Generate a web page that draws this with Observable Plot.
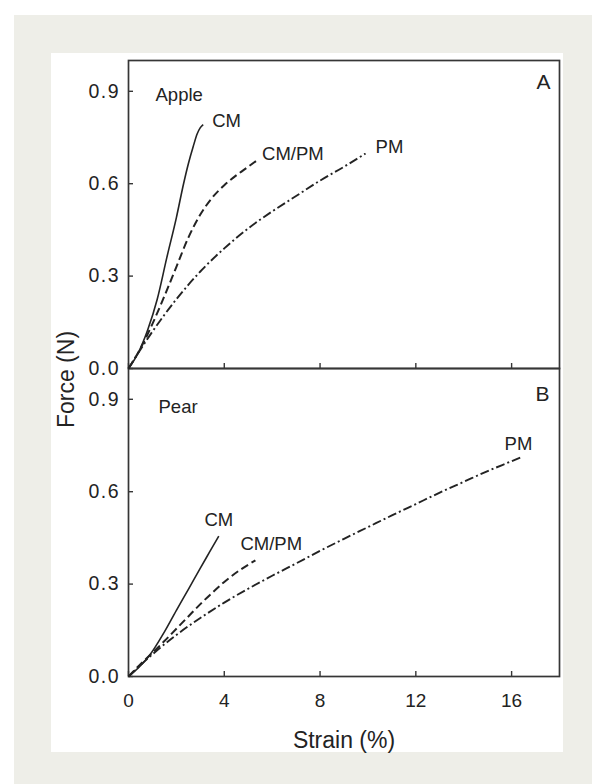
<!DOCTYPE html>
<html>
<head>
<meta charset="utf-8">
<script src="https://cdn.jsdelivr.net/npm/d3@7"></script>
<script src="https://cdn.jsdelivr.net/npm/@observablehq/plot@0.6"></script>
<style>
  html, body { margin: 0; padding: 0; background: #ffffff; }
  #page { position: relative; width: 592px; height: 784px; overflow: hidden; }
  #backdrop { position: absolute; left: 14px; top: 15px; right: 0; bottom: 0; background: #eeeee8; }
  #sheet { position: absolute; left: 51px; top: 53px; width: 512px; height: 699px; background: #ffffff; }
  #chart { position: absolute; left: 0; top: 0; }
  #chart g[aria-label="y-axis tick label"] text { letter-spacing: 1.5px; }
</style>
</head>
<body>
<div id="page">
  <div id="backdrop"></div>
  <div id="sheet"></div>
  <div id="chart"></div>
</div>
<script>
// Tick values and panel categories
const xTicks = [0, 4, 8, 12, 16];
const yTicks = [0, 0.3, 0.6, 0.9];
const fruits = ["Apple", "Pear"];
const panelLetters = ["A", "B"];
const seriesNames = ["CM", "CM/PM", "PM"];

// Force–strain curves, [strain (%), force (N)]
const appleCM = [[0, 0], [0.4, 0.05], [0.8, 0.125], [1.2, 0.225], [1.6, 0.36], [2.0, 0.49], [2.3, 0.6], [2.5, 0.665], [2.7, 0.72], [2.87, 0.762], [3.0, 0.782], [3.12, 0.792]];
const appleCMPM = [[0, 0], [0.5, 0.065], [1.0, 0.145], [1.5, 0.235], [2.0, 0.33], [2.5, 0.425], [3.0, 0.5], [3.5, 0.555], [4.0, 0.595], [4.5, 0.627], [5.0, 0.655], [5.37, 0.676]];
const applePM = [[0, 0], [1, 0.12], [2, 0.225], [3, 0.315], [4, 0.39], [5, 0.455], [6, 0.51], [7, 0.56], [8, 0.61], [9, 0.655], [9.9, 0.698]];
const pearCM = [[0, 0], [0.5, 0.035], [0.92, 0.073], [1.5, 0.145], [2.0, 0.215], [2.5, 0.283], [3.0, 0.352], [3.4, 0.406], [3.77, 0.456]];
const pearCMPM = [[0, 0], [0.5, 0.04], [1.0, 0.077], [1.5, 0.115], [2.0, 0.155], [2.5, 0.195], [3.0, 0.235], [3.5, 0.272], [4.0, 0.307], [4.68, 0.347], [5.0, 0.363], [5.3, 0.377]];
const pearPM = [[0, 0], [1, 0.072], [2, 0.135], [3, 0.19], [4, 0.24], [5, 0.285], [6, 0.327], [7, 0.367], [8, 0.408], [9, 0.447], [10, 0.485], [11, 0.523], [12, 0.56], [13, 0.597], [14, 0.632], [15, 0.667], [16, 0.699], [16.37, 0.711]];

const curveSets = [
  ["Apple", "CM", appleCM], ["Apple", "CM/PM", appleCMPM], ["Apple", "PM", applePM],
  ["Pear", "CM", pearCM], ["Pear", "CM/PM", pearCMPM], ["Pear", "PM", pearPM]
];

const rows = curveSets.flatMap(([fruit, series, pts]) =>
  pts.map(([strain, force]) => ({fruit, series, strain, force})));
const ends = curveSets.map(([fruit, series, pts]) => {
  const [strain, force] = pts[pts.length - 1];
  return {fruit, series, strain, force};
});
const panelRows = fruits.map((fruit, i) => ({fruit, letter: panelLetters[i]}));

// Line styles per series
const ink = "#232323";
const lineStyle = {
  "CM": {strokeWidth: 1.6},
  "CM/PM": {strokeWidth: 2, strokeDasharray: "8,4"},
  "PM": {strokeWidth: 1.9, strokeDasharray: "9,3,2,3"}
};

// Where each curve name sits relative to its curve's end
const labelPlacement = {
  "Apple|CM": {dx: 9, dy: -3, textAnchor: "start"},
  "Apple|CM/PM": {dx: 5, dy: -6, textAnchor: "start"},
  "Apple|PM": {dx: 10, dy: -6, textAnchor: "start"},
  "Pear|CM": {dx: 0, dy: -16, textAnchor: "middle"},
  "Pear|CM/PM": {dx: -15, dy: -16, textAnchor: "start"},
  "Pear|PM": {dx: -2, dy: -13, textAnchor: "middle"}
};
const panelPlacement = {
  "Apple": {name: {dx: 27, dy: 27}, letter: {dx: -9, dy: 14}},
  "Pear": {name: {dx: 30, dy: 31}, letter: {dx: -10, dy: 18}}
};

const marks = [
  Plot.frame({stroke: "#363636", strokeWidth: 1.7}),
  Plot.axisY(yTicks, {tickSize: -5, tickPadding: 13.5, tickFormat: d3.format(".1f"), fontSize: 19.5, label: null, stroke: "#363636", strokeWidth: 1.4}),
  Plot.axisX(xTicks, {tickSize: -5, tickFormat: () => "", label: null, facetAnchor: null, stroke: "#363636", strokeWidth: 1.4}),
  Plot.axisX(xTicks, {tickSize: 0, tickPadding: 17, fontSize: 19, label: null})
];

for (const name of seriesNames) {
  marks.push(Plot.line(rows.filter(d => d.series === name), {
    x: "strain", y: "force", fy: "fruit", z: "fruit",
    stroke: ink, curve: "monotone-x", strokeLinecap: "butt",
    ...lineStyle[name]
  }));
}

for (const e of ends) {
  const p = labelPlacement[e.fruit + "|" + e.series];
  marks.push(Plot.text([e], {
    x: "strain", y: "force", fy: "fruit", text: "series",
    fontSize: 18.5, lineAnchor: "middle", fill: ink, ...p
  }));
}

for (const r of panelRows) {
  const p = panelPlacement[r.fruit];
  marks.push(Plot.text([r], {fy: "fruit", text: "fruit", frameAnchor: "top-left", lineAnchor: "top", textAnchor: "start", fontSize: 18.5, fill: ink, ...p.name}));
  marks.push(Plot.text([r], {fy: "fruit", text: "letter", frameAnchor: "top-right", lineAnchor: "top", textAnchor: "end", fontSize: 21, fill: ink, ...p.letter}));
}

// Axis titles, anchored to the lower panel
marks.push(Plot.text([{fruit: "Pear", t: "Force (N)"}], {fy: "fruit", text: "t", frameAnchor: "top-left", dx: -62, dy: 11, rotate: -90, textAnchor: "middle", lineAnchor: "middle", fontSize: 23, fill: ink}));
marks.push(Plot.text([{fruit: "Pear", t: "Strain (%)"}], {fy: "fruit", text: "t", frameAnchor: "bottom", dy: 64, textAnchor: "middle", lineAnchor: "middle", fontSize: 23, fill: ink}));

const chart = Plot.plot({
  width: 592,
  height: 784,
  marginTop: 59,
  marginLeft: 128,
  marginRight: 33,
  marginBottom: 108,
  style: {background: "transparent", fontFamily: "'Liberation Sans', Arial, sans-serif", color: ink, overflow: "visible"},
  x: {domain: [0, 18]},
  y: {domain: [0, 1]},
  fy: {domain: fruits, padding: 0, axis: null},
  marks
});

document.getElementById("chart").appendChild(chart);
</script>
</body>
</html>
